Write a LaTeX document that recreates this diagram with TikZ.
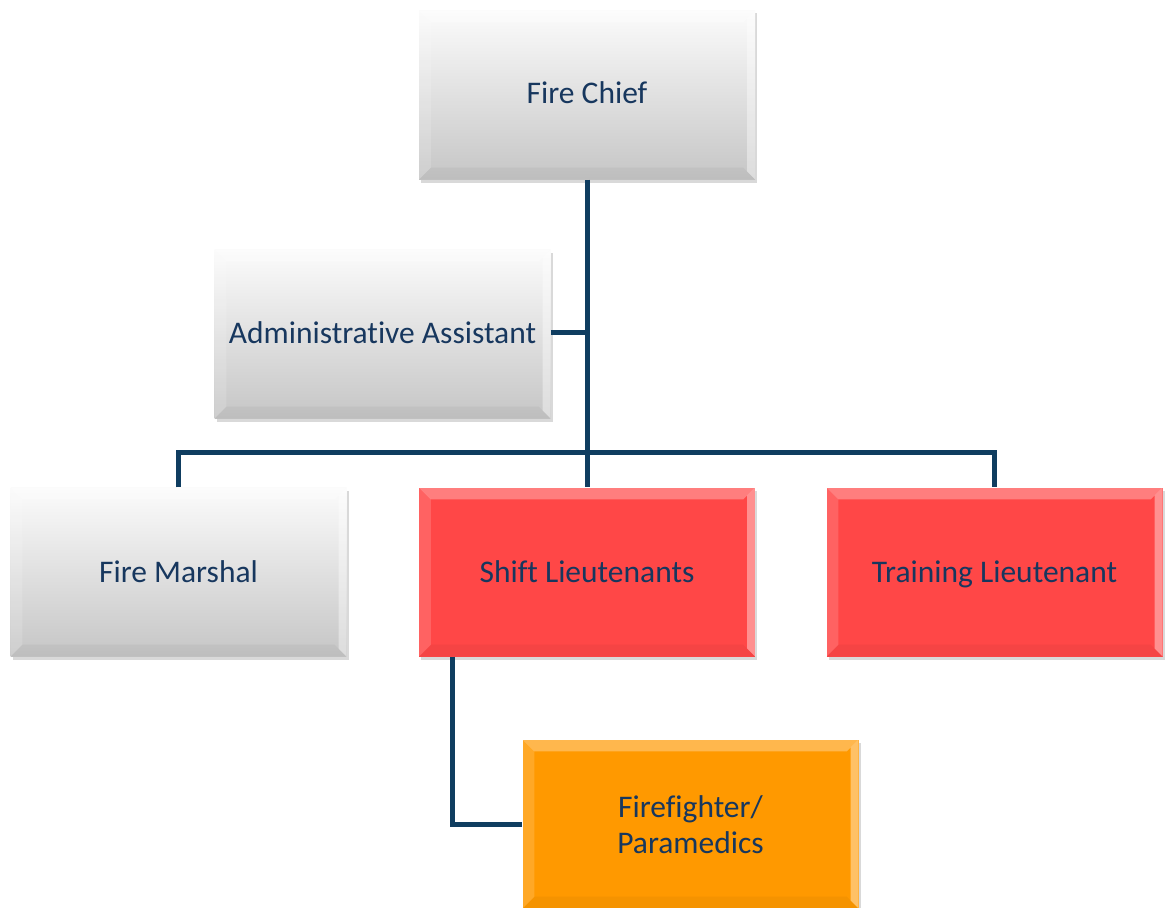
\documentclass[tikz,border=0pt]{standalone}
\usepackage{fontspec}
\setmainfont{Carlito}[Ligatures=CommonOff]
\usetikzlibrary{calc,shadows}
\definecolor{txt}{HTML}{17375E}
\definecolor{linec}{HTML}{0F3D60}
\definecolor{redf}{HTML}{FF4747}
\definecolor{orgf}{HTML}{FF9900}
\tikzset{
  box/.style={minimum width=336pt, minimum height=169pt, inner sep=0pt, align=center,
    drop shadow={opacity=0.3, shadow xshift=2pt, shadow yshift=-3pt}},
  graybox/.style={box, top color=gray!3, bottom color=gray!45},
  redbox/.style={box, fill=redf},
  orgbox/.style={box, fill=orgf},
  conn/.style={draw=linec, line width=5pt},
  lbl/.style={text=txt, font=\fontsize{31.5}{36}\selectfont, align=center, inner sep=0pt}
}
\newcommand\bevelbox[1]{%
  \fill[white,opacity=0.3] (#1.north west) -- (#1.north east) -- ($(#1.north east)+(-12,12)$) -- ($(#1.north west)+(12,12)$) -- cycle;
  \fill[white,opacity=0.15] (#1.north west) -- ($(#1.north west)+(12,12)$) -- ($(#1.south west)+(12,-12)$) -- (#1.south west) -- cycle;
  \fill[white,opacity=0.4] (#1.north east) -- ($(#1.north east)+(-8,8)$) -- ($(#1.south east)+(-8,-8)$) -- (#1.south east) -- cycle;
  \fill[black,opacity=0.04] (#1.south west) -- ($(#1.south west)+(12,-12)$) -- ($(#1.south east)+(-12,-12)$) -- (#1.south east) -- cycle;
}
\begin{document}
\begin{tikzpicture}[x=1pt,y=-1pt]
\useasboundingbox (0,0) rectangle (1166,907);
\coordinate (hub) at (587,452);
\coordinate (aj) at (587,332);
\node[graybox] (chief) at (587,95) {};
\node[graybox] (admin) at (382.5,334) {};
\node[graybox] (marshal) at (178.5,572) {};
\node[redbox] (shift) at (587,572) {};
\node[redbox] (train) at (994.5,572) {};
\node[orgbox] (ff) at (690.5,824) {};
\draw[conn] (chief.south) -- (shift.north);
\draw[conn] (admin.east |- aj) -- (aj);
\draw[conn] (marshal.north) |- (hub) -| (train.north);
\draw[conn] (shift.south -| 452,0) |- (ff.west);
\foreach \n in {chief,admin,marshal,shift,train,ff} {\bevelbox{\n}}
\node[lbl] at ($(chief.center)+(0,1)$) {\strut Fire Chief};
\node[lbl] at ($(admin.center)+(0,2)$) {\strut Administrative Assistant};
\node[lbl] at ($(marshal.center)+(0,3)$) {\strut Fire Marshal};
\node[lbl] at ($(shift.center)+(0,3)$) {\strut Shift Lieutenants};
\node[lbl] at ($(train.center)+(0,3)$) {\strut Training Lieutenant};
\node[lbl] at ($(ff.center)+(0,1)$) {Firefighter/\\Paramedics};
\end{tikzpicture}
\end{document}
